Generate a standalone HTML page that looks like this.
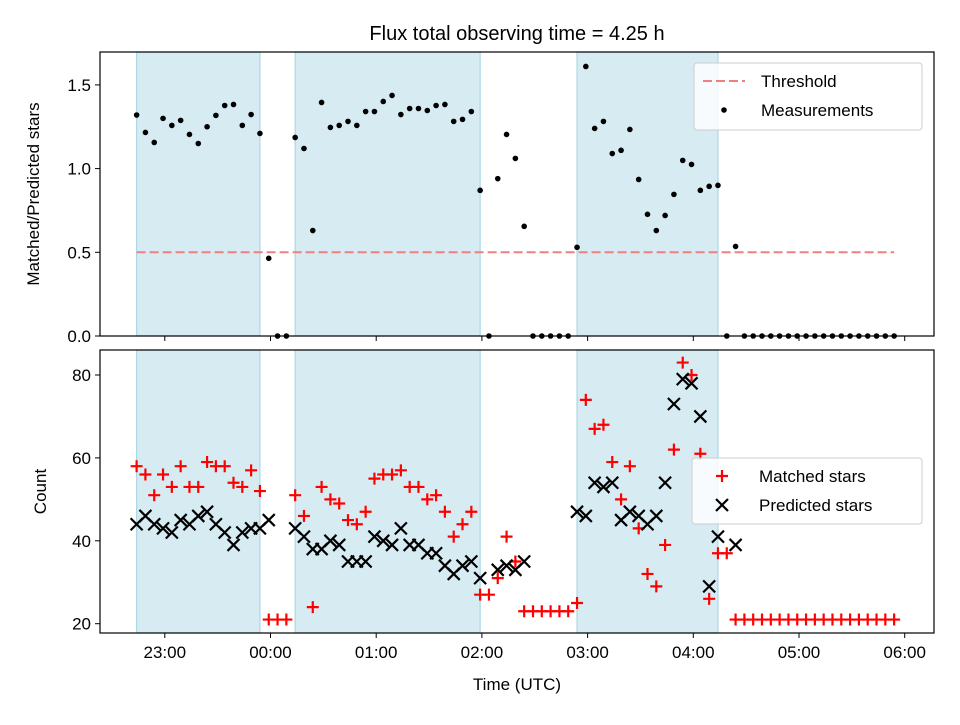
<!DOCTYPE html>
<html><head><meta charset="utf-8"><style>
body{margin:0;background:#fff;}
svg text{font-family:"Liberation Sans","DejaVu Sans",sans-serif;}
</style></head><body>
<svg id="fig" width="960" height="720" viewBox="0 0 960 720" xmlns="http://www.w3.org/2000/svg">
<text x="517" y="40" font-size="20" text-anchor="middle" fill="#000">Flux total observing time = 4.25 h</text>
<g id="topPanel"></g>
<g id="botPanel"></g>
</svg>
<script>
const startMin = -76; // 22:44 relative to 00:00
const stepMin = 5;
const ratio = [1.32,1.216,1.156,1.30,1.258,1.288,1.204,1.15,1.25,1.318,1.377,1.383,1.258,1.323,1.21,0.464,0,0,1.186,1.12,0.63,1.395,1.246,1.258,1.282,1.258,1.341,1.341,1.401,1.437,1.323,1.359,1.359,1.347,1.377,1.383,1.282,1.294,1.341,0.87,0,0.94,1.204,1.061,0.655,0,0,0,0,0,0.53,1.61,1.24,1.282,1.09,1.109,1.234,0.935,0.727,0.63,0.72,0.846,1.049,1.025,0.87,0.894,0.9,0,0.535,0,0,0,0,0,0,0,0,0,0,0,0,0,0,0,0,0,0];
const matched = [58,56,51,56,53,58,53,53,59,58,58,54,53,57,52,21,21,21,51,46,24,53,50,49,45,44,47,55,56,56,57,53,53,50,51,47,41,44,47,27,27,31,41,35,23,23,23,23,23,23,25,74,67,68,59,50,58,43,32,29,39,62,83,80,61,26,37,37,21,21,21,21,21,21,21,21,21,21,21,21,21,21,21,21,21,21,21];
const predicted = [44,46,44,43,42,45,44,46,47,44,42,39,42,43,43,45,null,null,43,41,38,38,40,39,35,35,35,41,40,39,43,39,39,37,37,34,32,34,35,31,null,33,34,33,35,null,null,null,null,null,47,46,54,53,54,45,47,46,44,46,54,73,79,78,70,29,41,null,39,null,null,null,null,null,null,null,null,null,null,null,null,null,null,null,null,null,null];
const spanStartIdx = [0,18,50];
const spanEndIdx = [14,39,66];
const threshold = 0.5;
const xTickLabels = ["23:00","00:00","01:00","02:00","03:00","04:00","05:00","06:00"];
const xTickMins = [-60,0,60,120,180,240,300,360];
const topTicks = [0.0,0.5,1.0,1.5];
const botTicks = [20,40,60,80];

const NS="http://www.w3.org/2000/svg";
const L=100,R=934;
const xs=m=>270.5+(m)*(105.7/60);
const tMin=i=>startMin+i*stepMin;
const topY=v=>336-v*167.4;
const botY=v=>623.7-(v-20)*4.145;
function mk(parent,tag,attrs){const e=document.createElementNS(NS,tag);for(const k in attrs)e.setAttribute(k,attrs[k]);parent.appendChild(e);return e;}
function panel(g,T,B,yf,ticks,fmt,ylabel,showX){
  for(let s=0;s<spanStartIdx.length;s++){
    const r=mk(g,'rect',{x:xs(tMin(spanStartIdx[s])),y:T,width:xs(tMin(spanEndIdx[s]))-xs(tMin(spanStartIdx[s])),height:B-T,fill:'#add8e6','fill-opacity':0.5,stroke:'#add8e6','stroke-width':1.2});
    
    
  }
  ticks.forEach(v=>{
    const y=yf(v);
    mk(g,'line',{x1:L-5,x2:L,y1:y,y2:y,stroke:'#000','stroke-width':1});
    const t=mk(g,'text',{x:L-9,y:y+6,'font-size':17,'text-anchor':'end'});t.textContent=fmt(v);
    
    
  });
  xTickMins.forEach((m,i)=>{
    const x=xs(m);
    mk(g,'line',{x1:x,x2:x,y1:B,y2:B+5,stroke:'#000','stroke-width':1});
    if(showX){const t=mk(g,'text',{x:x,y:B+25,'font-size':17,'text-anchor':'middle'});t.textContent=xTickLabels[i];
      
      }
  });
  const yl=mk(g,'text',{x:0,y:0,'font-size':17,'text-anchor':'middle',transform:`translate(${ylabel[1]},${(T+B)/2}) rotate(-90)`});yl.textContent=ylabel[0];
  
  
}
const topG=document.getElementById('topPanel'),botG=document.getElementById('botPanel');
panel(topG,52,336,topY,topTicks,v=>v.toFixed(1),['Matched/Predicted stars',39],false);
const th=mk(topG,'line',{x1:xs(tMin(0)),x2:xs(tMin(ratio.length-1)),y1:topY(threshold),y2:topY(threshold),stroke:'#f08080','stroke-width':2,'stroke-dasharray':'9,4'});


ratio.forEach((v,i)=>{const c=mk(topG,'circle',{cx:xs(tMin(i)),cy:topY(v),r:2.8,fill:'#000'});
  
  });
mk(topG,'rect',{x:L,y:52,width:R-L,height:284,fill:'none',stroke:'#000','stroke-width':1.2});

panel(botG,350,633,botY,botTicks,v=>String(v),['Count',46],true);
matched.forEach((v,i)=>{const x=xs(tMin(i)),y=botY(v);
  const p=mk(botG,'path',{d:`M${x-6},${y}H${x+6}M${x},${y-6}V${y+6}`,stroke:'#f00','stroke-width':2.2});
  
  });
predicted.forEach((v,i)=>{if(v===null)return;const x=xs(tMin(i)),y=botY(v);
  const p=mk(botG,'path',{d:`M${x-6},${y-6}L${x+6},${y+6}M${x-6},${y+6}L${x+6},${y-6}`,stroke:'#000','stroke-width':2.2});
  
  });
mk(botG,'rect',{x:L,y:350,width:R-L,height:283,fill:'none',stroke:'#000','stroke-width':1.2});
const xt=mk(botG,'text',{x:517,y:690,'font-size':17,'text-anchor':'middle'});xt.textContent='Time (UTC)';



function legend(g,x,y,w,h,items){
  const lg=mk(g,'g',{});
  
  
  mk(lg,'rect',{x:x,y:y,width:w,height:h,rx:3,fill:'#fff','fill-opacity':0.8,stroke:'#ccc','stroke-width':1});
  items.forEach((it,k)=>{
    const cy=y+18+k*29, cx=x+30;
    if(it[0]==='dash') mk(lg,'line',{x1:x+9,x2:x+51,y1:cy,y2:cy,stroke:'#f08080','stroke-width':2,'stroke-dasharray':'9,4'});
    if(it[0]==='dot') mk(lg,'circle',{cx:cx,cy:cy,r:2.8,fill:'#000'});
    if(it[0]==='plus') mk(lg,'path',{d:`M${cx-6},${cy}H${cx+6}M${cx},${cy-6}V${cy+6}`,stroke:'#f00','stroke-width':2.2});
    if(it[0]==='x') mk(lg,'path',{d:`M${cx-6},${cy-6}L${cx+6},${cy+6}M${cx-6},${cy+6}L${cx+6},${cy-6}`,stroke:'#000','stroke-width':2.2});
    const t=mk(lg,'text',{x:x+67,y:cy+6,'font-size':17});t.textContent=it[1];
    
    
  });
}
legend(topG,694,63,228,67,[['dash','Threshold'],['dot','Measurements']]);
legend(botG,692,458,230,66,[['plus','Matched stars'],['x','Predicted stars']]);
</script>
</body></html>
